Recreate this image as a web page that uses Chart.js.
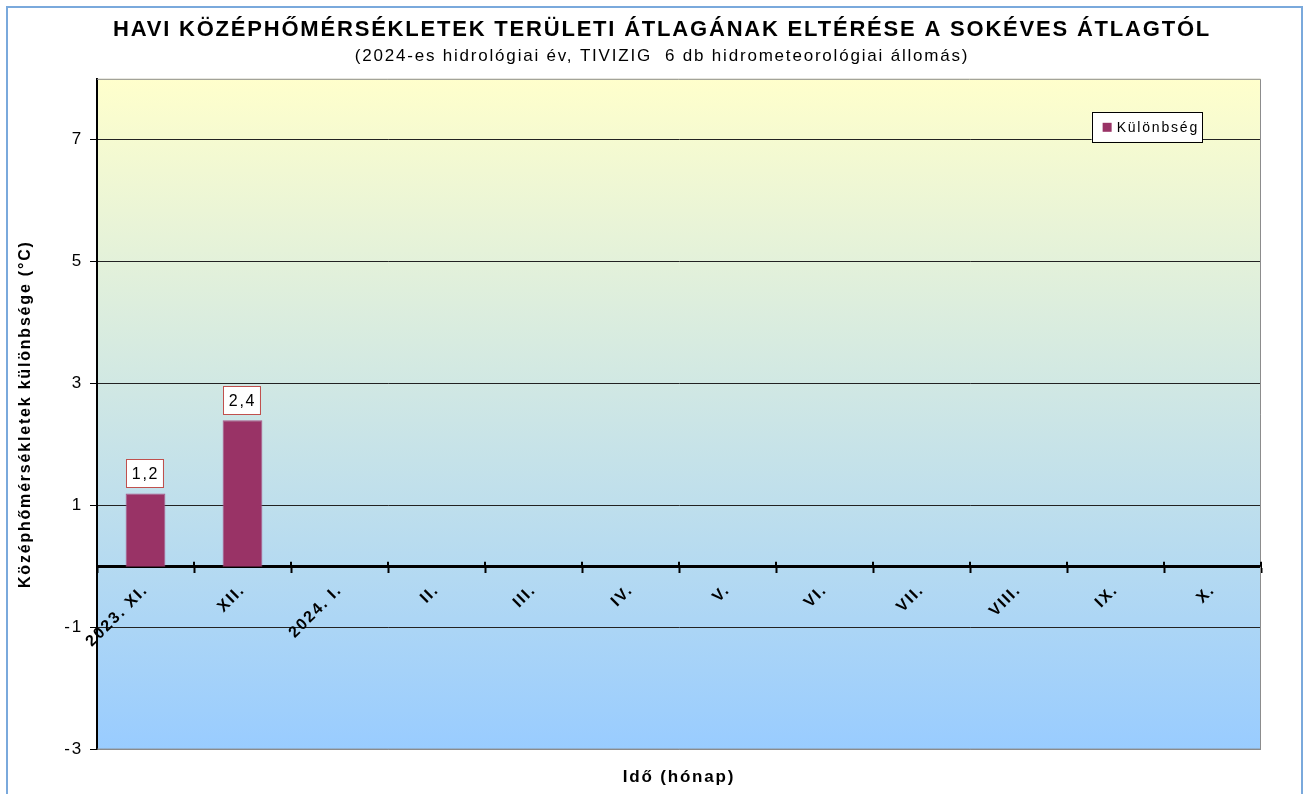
<!DOCTYPE html>
<html>
<head>
<meta charset="utf-8">
<title>Havi középhőmérséklet eltérés</title>
<script src="https://cdn.jsdelivr.net/npm/chart.js@4/dist/chart.umd.min.js"></script>
<style>
    html, body { margin: 0; padding: 0; background: #ffffff; overflow: hidden; }
    #frame {
        position: absolute; left: 6px; top: 6px;
        width: 1293px; height: 900px;
        border: 2px solid #7AA9DC;
    }
    #wrap { position: absolute; left: 0; top: 0; width: 1308px; height: 794px; }
</style>
</head>
<body>
<div id="frame"></div>
<div id="wrap"><canvas id="myChart"></canvas></div>
<script>

// =======================================
// DATA
// =======================================

const months = [
    '2023. XI.', 'XII.', '2024. I.', 'II.', 'III.', 'IV.',
    'V.', 'VI.', 'VII.', 'VIII.', 'IX.', 'X.'
];

const differences = [1.2, 2.4, null, null, null, null, null, null, null, null, null, null];

const yTickValues = [-3, -1, 1, 3, 5, 7];

const yMin = -3;
const yMax = 8;

const seriesLabel = 'Különbség';
const barColor = '#993366';

const FONT = '"Liberation Sans", Arial, sans-serif';
const SPACING = '1.8px';

// =======================================
// PLOT BACKGROUND + LETTER SPACING
// =======================================

const plotBackground = {
    id: 'plotBackground',

    beforeUpdate(chart) {
        chart.ctx.letterSpacing = SPACING;
    },

    beforeDraw(chart) {
        const c = chart.ctx;
        const a = chart.chartArea;
        c.letterSpacing = SPACING;

        const g = c.createLinearGradient(0, a.top, 0, a.bottom);
        g.addColorStop(0, '#FFFFCC');
        g.addColorStop(1, '#99CCFF');

        c.save();
        c.fillStyle = g;
        c.fillRect(a.left, a.top, a.right - a.left, a.bottom - a.top);
        c.restore();
    },

    afterDatasetsDraw(chart) {
        const c = chart.ctx;
        const a = chart.chartArea;

        // grey frame on top, right and bottom of the plot
        c.save();
        c.strokeStyle = '#8C8C8C';
        c.lineWidth = 1;
        c.beginPath();
        c.moveTo(a.left, a.top + 0.5);
        c.lineTo(a.right - 0.5, a.top + 0.5);
        c.lineTo(a.right - 0.5, a.bottom - 0.5);
        c.lineTo(a.left, a.bottom - 0.5);
        c.stroke();

        // upper half of the category tick marks on the zero line
        const xs = chart.scales.x;
        const zero = chart.scales.y.getPixelForValue(0);
        c.strokeStyle = '#000000';
        c.lineWidth = 2;
        c.beginPath();
        for (let i = 0; i <= months.length; i++) {
            const px = Math.round(xs.getPixelForValue(i - 0.5));
            c.moveTo(px, zero - 5);
            c.lineTo(px, zero);
        }
        c.stroke();
        c.restore();
    }
};

// =======================================
// VALUE BOXES ABOVE THE BARS
// =======================================

const valueBoxes = {
    id: 'valueBoxes',

    afterDatasetsDraw(chart) {
        const c = chart.ctx;
        const meta = chart.getDatasetMeta(0);

        c.save();
        c.font = '16px ' + FONT;
        c.textAlign = 'center';
        c.textBaseline = 'middle';

        meta.data.forEach((bar, i) => {
            const v = differences[i];
            if (v === null) return;

            const text = v.toFixed(1).replace('.', ',');
            const w = c.measureText(text).width + 9;
            const h = 28;
            const x = bar.x - w / 2 - 1;
            const y = bar.y - 6 - h;

            c.fillStyle = '#ffffff';
            c.fillRect(x, y, w, h);
            c.strokeStyle = '#C0504D';
            c.lineWidth = 1;
            c.strokeRect(Math.round(x) + 0.5, Math.round(y) + 0.5, Math.round(w), Math.round(h));

            c.fillStyle = '#000000';
            c.fillText(text, bar.x, y + h / 2 + 1);
        });

        c.restore();
    }
};

// =======================================
// LEGEND BOX INSIDE THE PLOT
// =======================================

const legendBox = {
    id: 'legendBox',

    afterDatasetsDraw(chart) {
        const c = chart.ctx;
        const a = chart.chartArea;
        const ds = chart.data.datasets[0];

        c.save();
        c.font = '14px ' + FONT;
        const tw = c.measureText(ds.label).width;

        const w = 10 + 9 + 5 + tw + 4;
        const h = 30;
        const right = a.right - 59;
        const x = right - w;
        const y = a.top + 33;

        c.fillStyle = '#ffffff';
        c.fillRect(x, y, w, h);
        c.strokeStyle = '#000000';
        c.lineWidth = 1;
        c.strokeRect(Math.round(x) + 0.5, Math.round(y) + 0.5, Math.round(w), h);

        c.fillStyle = ds.backgroundColor;
        c.fillRect(x + 11, y + 11, 9, 9);

        c.fillStyle = '#000000';
        c.textAlign = 'left';
        c.textBaseline = 'middle';
        c.fillText(ds.label, x + 25, y + h / 2 + 1);
        c.restore();
    }
};

// =======================================
// CHART JS
// =======================================

const ctx = document.getElementById('myChart').getContext('2d');

const myChart = new Chart(ctx, {

    type: 'bar',

    data: {
        labels: months,
        datasets: [
            {
                label: seriesLabel,
                data: differences,
                backgroundColor: barColor,
                borderColor: '#A8598A',
                borderWidth: 1,
                barPercentage: 0.41,
                categoryPercentage: 1
            }
        ]
    },

    options: {
        responsive: true,
        maintainAspectRatio: false,
        animation: false,

        layout: {
            padding: { left: 16, right: 0, top: 10, bottom: 2 }
        },

        plugins: {
            legend: { display: false },
            tooltip: { enabled: false },

            title: {
                display: true,
                text: 'HAVI KÖZÉPHŐMÉRSÉKLETEK TERÜLETI ÁTLAGÁNAK ELTÉRÉSE A SOKÉVES ÁTLAGTÓL',
                color: '#000000',
                font: { family: FONT, size: 22, weight: 'bold' },
                padding: { top: 7, bottom: 0 }
            },

            subtitle: {
                display: true,
                text: '(2024-es hidrológiai év, TIVIZIG  6 db hidrometeorológiai állomás)',
                color: '#000000',
                font: { family: FONT, size: 17 },
                padding: { top: 3, bottom: 12 }
            }
        },

        scales: {

            x: {
                type: 'category',
                position: { y: 0 },
                offset: true,
                grid: {
                    display: true,
                    offset: true,
                    drawOnChartArea: false,
                    tickLength: 5,
                    tickWidth: 2,
                    tickColor: '#000000'
                },
                border: { display: true, color: '#000000', width: 3 },
                ticks: {
                    autoSkip: false,
                    minRotation: 45,
                    maxRotation: 45,
                    padding: 9,
                    color: '#000000',
                    font: { family: FONT, size: 16, weight: 'bold' }
                }
            },

            x2: {
                type: 'category',
                labels: months,
                position: 'bottom',
                offset: true,
                grid: { display: false },
                border: { display: false },
                ticks: { display: false },
                title: {
                    display: true,
                    text: 'Idő (hónap)',
                    color: '#000000',
                    font: { family: FONT, size: 17, weight: 'bold' },
                    padding: { top: 10, bottom: 4 }
                }
            },

            y: {
                min: yMin,
                max: yMax,
                afterBuildTicks: (scale) => {
                    scale.ticks = yTickValues.map(v => ({ value: v }));
                },
                afterFit: (scale) => {
                    scale.width = 81;
                },
                grid: {
                    color: (c) => (c.tick && c.tick.value === yMin) ? '#8C8C8C' : '#222222',
                    lineWidth: 1,
                    tickLength: 7,
                    tickColor: '#000000'
                },
                border: { display: true, color: '#000000', width: 2 },
                ticks: {
                    padding: 7,
                    color: '#000000',
                    font: { family: FONT, size: 17 }
                },
                title: {
                    display: true,
                    text: 'Középhőmérsékletek különbsége (°C)',
                    color: '#000000',
                    font: { family: FONT, size: 16, weight: 'bold' },
                    padding: 0
                }
            },

            // empty right axis: keeps the margin right of the plot
            yRight: {
                type: 'linear',
                position: 'right',
                min: yMin,
                max: yMax,
                grid: { display: false },
                border: { display: false },
                ticks: { display: false },
                afterFit: (scale) => {
                    scale.width = 47;
                }
            }
        }
    },

    plugins: [plotBackground, valueBoxes, legendBox]
});

</script>
</body>
</html>
